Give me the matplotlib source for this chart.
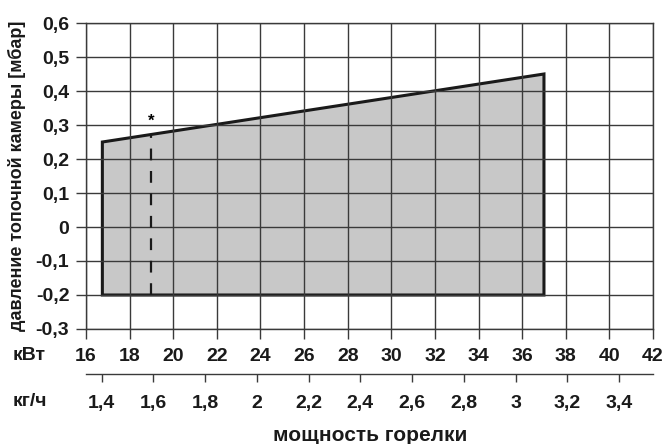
import matplotlib
matplotlib.use("Agg")
import matplotlib.pyplot as plt
import numpy as np

plt.rcParams["font.family"] = ["Liberation Sans", "DejaVu Sans"]
plt.rcParams["font.weight"] = "bold"

# data
kw_ticks = [16, 18, 20, 22, 24, 26, 28, 30, 32, 34, 36, 38, 40, 42]
p_ticks = [-0.3, -0.2, -0.1, 0, 0.1, 0.2, 0.3, 0.4, 0.5, 0.6]
p_labels = ["-0,3", "-0,2", "-0,1", "0", "0,1", "0,2", "0,3", "0,4", "0,5", "0,6"]
kg_ticks = [1.4, 1.6, 1.8, 2.0, 2.2, 2.4, 2.6, 2.8, 3.0, 3.2, 3.4]
kg_labels = ["1,4", "1,6", "1,8", "2", "2,2", "2,4", "2,6", "2,8", "3", "3,2", "3,4"]

area_kw = [16.75, 16.75, 37.0, 37.0]
area_p = [-0.2, 0.25, 0.45, -0.2]
marker_kw = 19.0
marker_top = 0.27

# kW <-> kg/h relation from the second scale
kw0, kg0, kw_per_kg = 16.72, 1.4, 11.86


def kg_to_kw(kg):
    return kw0 + (np.asarray(kg) - kg0) * kw_per_kg


def kw_to_kg(kw):
    return kg0 + (np.asarray(kw) - kw0) / kw_per_kg


grid_c = "#3a3a3a"
txt_c = "#1a1a1a"
fig = plt.figure(figsize=(6.66, 4.44), dpi=100)
ax = fig.add_axes([86 / 666, 1 - 329 / 444, (653 - 86) / 666, (329 - 23) / 444])

ax.fill(area_kw, area_p, facecolor="#c8c8c8", edgecolor=txt_c, lw=2.2, zorder=2)
ax.plot([marker_kw, marker_kw], [-0.2, marker_top], color=txt_c, lw=1.6,
        ls=(0, (5.3, 4.8)), zorder=3)
ax.text(marker_kw, 0.31, "*", ha="center", va="center", fontsize=12, zorder=3)

ax.set_xlim(16, 42)
ax.set_ylim(-0.3, 0.6)
ax.set_xticks(kw_ticks)
ax.set_xticklabels([str(v) for v in kw_ticks])
ax.set_yticks(p_ticks)
ax.set_yticklabels(p_labels)
ax.grid(True, color=grid_c, lw=1.0, zorder=1)
ax.set_axisbelow(False)
for s in ax.spines.values():
    s.set_color(grid_c)
    s.set_linewidth(1.0)
ax.tick_params(axis="both", colors=grid_c, width=1.0, length=7, labelsize=14,
               labelcolor=txt_c)
ax.tick_params(axis="x", pad=7)
ax.tick_params(axis="y", pad=5)

sec = ax.secondary_xaxis(-0.147, functions=(kw_to_kg, kg_to_kw))
sec.set_xticks(kg_ticks)
sec.set_xticklabels(kg_labels)
sec.spines["bottom"].set_color(grid_c)
sec.spines["bottom"].set_linewidth(1.0)
sec.tick_params(axis="x", colors=grid_c, width=1.0, length=6, labelsize=14,
                labelcolor=txt_c, pad=9)

fig.text(13 / 666, 1 - 355 / 444, "кВт", ha="left", va="center", fontsize=14,
         color=txt_c)
fig.text(13 / 666, 1 - 401 / 444, "кг/ч", ha="left", va="center", fontsize=14,
         color=txt_c)
fig.text(370 / 666, 1 - 435 / 444, "мощность горелки", ha="center", va="center",
         fontsize=15, color=txt_c)
fig.text(17 / 666, 1 - 176 / 444, "давление топочной камеры [мбар]", ha="center",
         va="center", rotation=90, fontsize=13, color=txt_c)

fig.savefig("out.png", dpi=100)
